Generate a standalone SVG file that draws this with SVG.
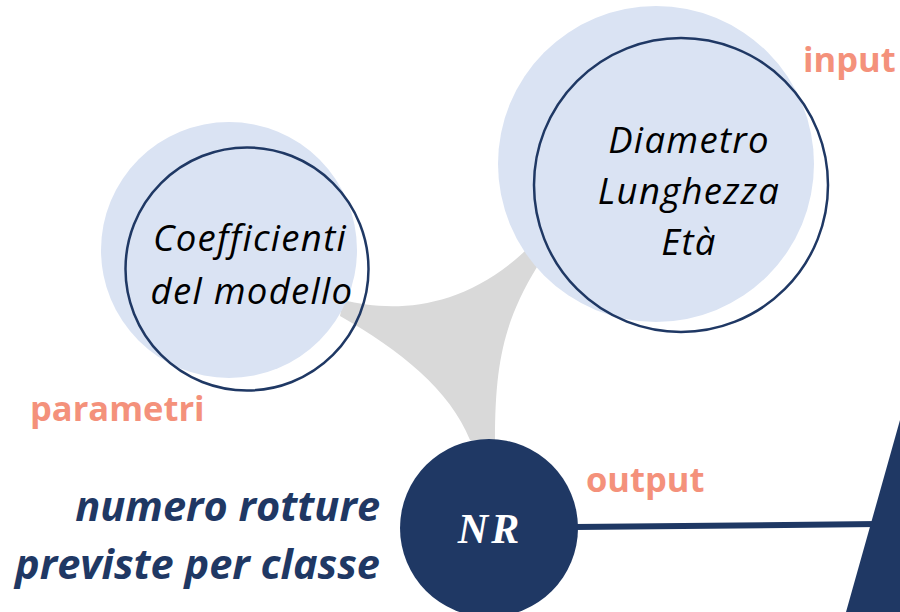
<svg xmlns="http://www.w3.org/2000/svg" width="900" height="612" viewBox="0 0 900 612">
<style>
.halo{fill:#DAE3F3}
.ring{fill:none;stroke:#1F3864;stroke-width:2.5}
.lbl{font-family:"Open Sans","Liberation Sans",sans-serif;font-style:italic;font-size:36.5px;letter-spacing:1.3px;fill:#000;text-anchor:middle}
.tag{font-family:"Open Sans","Liberation Sans",sans-serif;font-weight:bold;font-size:34.5px;fill:#F4917B}
.out{font-family:"Open Sans","Liberation Sans",sans-serif;font-weight:bold;font-style:italic;font-size:41.5px;fill:#1F3864;text-anchor:end}
</style>
<rect width="900" height="612" fill="#fff"/>
<g id="connectors">
<path d="M343,300 C390,312 460,312 525,251 L537,267 C505,320 495,360 495,440 L470,440 C450,390 400,350 340,316 Z" fill="#D9D9D9"/>
<line x1="575" y1="527" x2="878" y2="524" stroke="#1F3864" stroke-width="6"/>
</g>
<g id="node-parametri">
<circle class="halo" cx="229" cy="250" r="128"/>
<circle class="ring" cx="247" cy="269" r="121.5"/>
<text class="lbl" x="250" y="251">Coefficienti</text>
<text class="lbl" x="252" y="304">del modello</text>
<text class="tag" x="30" y="421">parametri</text>
</g>
<g id="node-input">
<circle class="halo" cx="656" cy="164" r="158"/>
<circle class="ring" cx="681" cy="185" r="147"/>
<text class="lbl" x="689" y="153">Diametro</text>
<text class="lbl" x="689" y="204">Lunghezza</text>
<text class="lbl" x="689" y="255">Età</text>
<text class="tag" x="803" y="72">input</text>
</g>
<g id="node-output">
<circle cx="489" cy="528" r="89" fill="#1F3864"/>
<text x="490" y="543" font-family="'Liberation Serif',serif" font-weight="bold" font-style="italic" font-size="42" fill="#fff" text-anchor="middle" letter-spacing="3">NR</text>
<text class="tag" x="586" y="492">output</text>
<text class="out" x="380" y="521">numero rotture</text>
<text class="out" x="380" y="579">previste per classe</text>
</g>
<g id="node-right">
<polygon points="900,420 846,612 900,612" fill="#1F3864"/>
</g>
</svg>
